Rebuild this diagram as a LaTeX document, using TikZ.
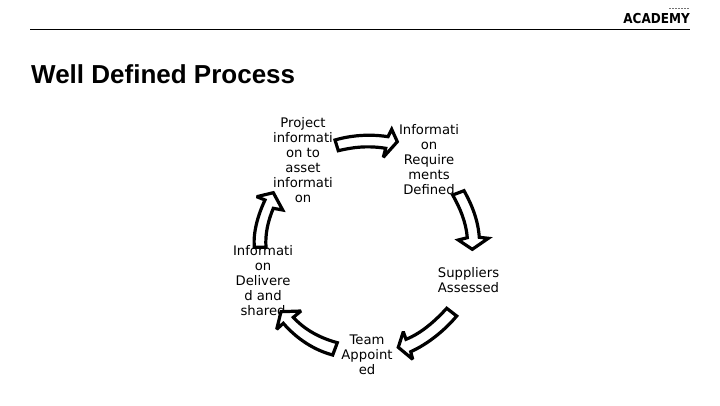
\documentclass[tikz,border=0pt]{standalone}
\usepackage{graphicx}
\usepackage{fontspec}
\setmainfont{DejaVu Sans}
\newfontfamily\titlefont{Liberation Sans}
\tikzset{
  stepnode/.style={align=center,font=\fontsize{13.2}{15}\selectfont,inner sep=0pt,text=black},
  blockarrow/.style={draw=black,fill=white,line width=3.2pt,line join=miter,miter limit=3},
}
\begin{document}
\begin{tikzpicture}[x=1pt,y=-1pt]
\useasboundingbox (0,0) rectangle (720,405);
\draw[black,line width=0.8pt] (30,29) -- (690,29);
\node[anchor=west,inner sep=0pt,font=\titlefont\bfseries\fontsize{26}{30}\selectfont] (title) at (31,74) {Well Defined Process};
\node[anchor=east,inner sep=0pt,font=\bfseries\fontsize{13.7}{14}\selectfont] (logo) at (690,18.5) {\scalebox{0.88}[1]{ACADEMY}};
\draw[black!55,line width=1.6pt,dash pattern=on 2pt off 1pt] (669,8.5) -- (690,8.5);
\node[stepnode] (a) at (303,160.5) {Project\\informati\\on to\\asset\\informati\\on};
\node[stepnode] (b) at (429,160) {Informati\\on\\Require\\ments\\Defined};
\node[stepnode] (c) at (468.5,280.5) {Suppliers\\Assessed};
\node[stepnode] (d) at (367,355) {Team\\Appoint\\ed};
\node[stepnode] (e) at (263,280.5) {Informati\\on\\Delivere\\d and\\shared};
\draw[blockarrow] (335,140) .. controls (345,137) and (365,133) .. (388,136.7) -- (391.7,129.3) -- (397.3,141.7) -- (383.3,157.3) -- (385.7,148.3) .. controls (365,145) and (350,148) .. (338.3,150.7) -- cycle;
\draw[blockarrow] (452.7,195) -- (464,190.7) .. controls (472,205) and (478,220) .. (479.3,237.3) -- (488.3,238.3) -- (472.3,249.3) -- (458.3,240) -- (467.3,237.7) .. controls (466,222) and (460,208) .. (452.7,195) -- cycle;
\draw[blockarrow] (446.7,308.3) -- (456.7,316) .. controls (445,330) and (428,344) .. (410.7,351.7) -- (412.7,359.3) -- (398.3,347.3) -- (403.3,331.7) -- (406,339.3) .. controls (422,333) and (436,320) .. (446.7,308.3) -- cycle;
\draw[blockarrow] (337.3,342.7) -- (332.7,355) .. controls (314,350) and (297,339) .. (283.3,323.3) -- (276.7,329.3) -- (281,311.7) -- (301,311) -- (293.3,317.3) .. controls (305,330) and (320,338) .. (337.3,342.7) -- cycle;
\draw[blockarrow] (254.3,247.3) -- (266,247.3) .. controls (265,234) and (268,221) .. (273.3,208.3) -- (282.7,210) -- (273.3,192.7) -- (256.7,196.7) -- (265,200) .. controls (258,215) and (253,232) .. (254.3,247.3) -- cycle;
\end{tikzpicture}
\end{document}
